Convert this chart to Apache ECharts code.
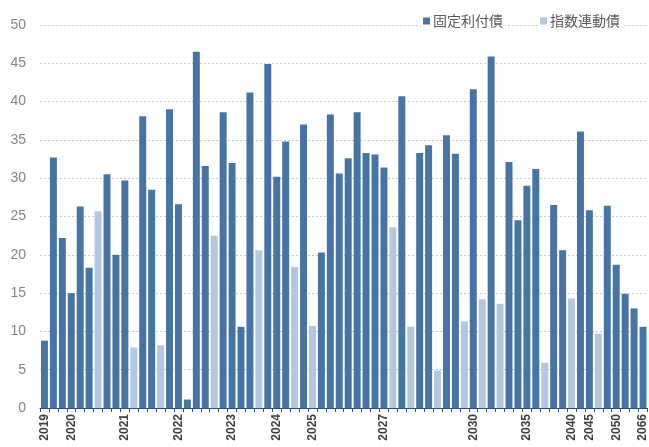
<!DOCTYPE html>
<html><head><meta charset="utf-8">
<script src="https://cdn.jsdelivr.net/npm/echarts@6/dist/echarts.min.js"></script>
<style>html,body{margin:0;padding:0;background:#fff}#c{width:649px;height:447px}</style>
</head><body><div id="c"></div>
<script>
var tickLabels = [
  '2019','','','2020',
  '','','','','','2021',
  '','','','','','2022',
  '','','','','','2023',
  '','','','','2024',
  '','','','2025',
  '','','','','','','','2027',
  '','','','','','','','','','2030',
  '','','','','','2035',
  '','','','','2040',
  '','2045',
  '','','2050',
  '','','2066'];
var fixedRate = [8.8,32.7,22.2,15.0,26.3,18.3,null,30.5,20.0,29.7,null,38.1,28.5,null,39.0,26.6,1.1,46.5,31.6,null,38.6,32.0,10.6,41.2,null,44.9,30.2,34.8,null,37.0,null,20.3,38.3,30.6,32.6,38.6,33.3,33.1,31.4,null,40.7,null,33.3,34.3,null,35.6,33.2,null,41.6,null,45.9,null,32.1,24.5,29.0,31.2,null,26.5,20.6,null,36.1,25.8,null,26.4,18.7,14.9,13.0,10.6];
var indexLinked = [null,null,null,null,null,null,25.7,null,null,null,7.9,null,null,8.2,null,null,null,null,null,22.5,null,null,null,null,20.6,null,null,null,18.4,null,10.7,null,null,null,null,null,null,null,null,23.6,null,10.6,null,null,4.9,null,null,11.3,null,14.2,null,13.6,null,null,null,null,5.9,null,null,14.3,null,null,9.7,null,null,null,null,null];
var categories = fixedRate.map(function(_, i){ return 'c' + i; });
var seriesNames = ['固定利付債','指数連動債'];
var colors = ['#4674A5','#B3C7E3'];

var chart = echarts.init(document.getElementById('c'));
chart.setOption({
  animation: false,
  grid: {left: 40, right: 0, top: 25, bottom: 39, containLabel: false},
  legend: [
    {data: [seriesNames[0]], left: 421, top: 14, icon: 'rect', itemWidth: 7, itemHeight: 7, itemGap: 0, backgroundColor: '#fff', padding: [0,2,0,2],
     textStyle: {fontSize: 14, color: '#595959', fontFamily: 'Noto Sans CJK JP', padding: [0,0,0,-2]}},
    {data: [seriesNames[1]], left: 538, top: 14, icon: 'rect', itemWidth: 7, itemHeight: 7, itemGap: 0, backgroundColor: '#fff', padding: [0,2,0,2],
     textStyle: {fontSize: 14, color: '#595959', fontFamily: 'Noto Sans CJK JP', padding: [0,0,0,-2]}}
  ],
  xAxis: {
    type: 'category', data: categories, boundaryGap: true,
    axisLine: {lineStyle: {color: '#2F4B78', width: 1}},
    axisTick: {show: true, interval: 0, length: 4, lineStyle: {color: '#2F4B78'}},
    axisLabel: {interval: 0, rotate: 90, margin: 6, fontSize: 12, fontWeight: 'bold', color: '#404040', fontFamily: 'Liberation Sans',
      formatter: function(v, i){ return tickLabels[i]; }}
  },
  yAxis: {
    type: 'value', min: 0, max: 50, interval: 5,
    axisLine: {show: false}, axisTick: {show: false},
    axisLabel: {fontSize: 14, color: '#858585', margin: 14, fontFamily: 'Liberation Sans'},
    splitLine: {lineStyle: {color: '#C8C8C8', type: [2,2], width: 1}}
  },
  series: [
    {name: seriesNames[0], type: 'bar', stack: 's', data: fixedRate, barCategoryGap: '22%', itemStyle: {color: colors[0]}},
    {name: seriesNames[1], type: 'bar', stack: 's', data: indexLinked, barCategoryGap: '22%', itemStyle: {color: colors[1]}}
  ]
});
</script></body></html>
